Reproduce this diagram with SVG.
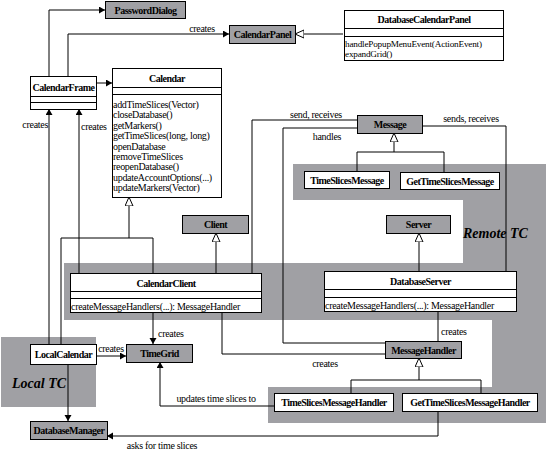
<svg xmlns="http://www.w3.org/2000/svg" width="546" height="451" viewBox="0 0 546 451" font-family="'Liberation Serif', 'Times New Roman', serif">
<style>
text{font-family:"Liberation Serif","Times New Roman",serif;fill:#000}
.cn{font-size:10px;font-weight:bold;text-anchor:middle;letter-spacing:-0.5px}
.m{font-size:10px;letter-spacing:-0.3px}
.ms{font-size:9.2px;letter-spacing:-0.2px}
.l{font-size:10px;letter-spacing:-0.3px}
.tc{font-size:14px;font-weight:bold;font-style:italic}
.box{fill:#fff;stroke:#000;stroke-width:1}
.gbox{fill:#a0a0a4;stroke:#000;stroke-width:1}
.region{fill:#a0a0a4;stroke:none}
.c{fill:none;stroke:#000;stroke-width:1}
</style>
<defs>
<marker id="arr" markerUnits="userSpaceOnUse" markerWidth="8" markerHeight="8" refX="6" refY="3.5" orient="auto">
<path d="M0,0 L6,3.5 L0,7 Z" fill="#000"/>
</marker>
<marker id="tri" markerUnits="userSpaceOnUse" markerWidth="12" markerHeight="12" refX="9" refY="4.5" orient="auto">
<path d="M0,0.5 L9,4.5 L0,8.5 Z" fill="#fff" stroke="#000" stroke-width="1"/>
</marker>
<marker id="dot" markerUnits="userSpaceOnUse" markerWidth="8" markerHeight="8" refX="1" refY="4" orient="auto">
<circle cx="4" cy="4" r="2.5" fill="#000"/>
</marker>
</defs>

<g id="regions">
<path class="region" d="M293,164 H546 V423 H268 V387 H492 V320 H64 V263 H463 V200 H293 Z"/>
<rect class="region" x="1" y="337" width="95" height="70"/>
<text class="tc" x="463" y="238">Remote TC</text>
<text class="tc" x="12" y="388">Local TC</text>
</g>

<g id="connectors">
<path class="c" d="M49,76 V10 H105" marker-end="url(#arr)"/>
<path class="c" d="M68,76 V34 H229" marker-end="url(#arr)"/>
<text class="l" x="202" y="32" text-anchor="middle">creates</text>
<path class="c" d="M96,83 H112" marker-end="url(#arr)"/>
<path class="c" d="M343,34 H295" marker-end="url(#tri)"/>
<path class="c" d="M49,344 V109" marker-end="url(#arr)"/>
<text class="l" x="48" y="128" text-anchor="end">creates</text>
<path class="c" d="M79,273 V109" marker-end="url(#arr)"/>
<text class="l" x="81" y="130">creates</text>
<path class="c" d="M153,273 V238 H129 V197" marker-end="url(#tri)"/>
<path class="c" d="M61,344 V238 H129"/>
<path class="c" d="M216,273 V233" marker-end="url(#tri)"/>
<path class="c" d="M252,273 V120 H357" marker-end="url(#dot)"/>
<text class="l" x="316" y="118" text-anchor="middle">send, receives</text>
<path class="c" d="M506,271 V126 H422" marker-end="url(#dot)"/>
<text class="l" x="471" y="122" text-anchor="middle">sends, receives</text>
<path class="c" d="M357,128 H283 V343 H385"/>
<text class="l" x="327" y="140" text-anchor="middle">handles</text>
<path class="c" d="M357,171 V152 H444 V172"/>
<path class="c" d="M394,152 V133" marker-end="url(#tri)"/>
<path class="c" d="M419,271 V233" marker-end="url(#tri)"/>
<path class="c" d="M153,312 V344" marker-end="url(#arr)"/>
<text class="l" x="158" y="337">creates</text>
<path class="c" d="M222,312 V354 H385" marker-end="url(#dot)"/>
<text class="l" x="325" y="367" text-anchor="middle">creates</text>
<path class="c" d="M438,311 V341" marker-end="url(#dot)"/>
<text class="l" x="441" y="335">creates</text>
<path class="c" d="M96,356 H126" marker-end="url(#arr)"/>
<text class="l" x="111" y="352" text-anchor="middle">creates</text>
<path class="c" d="M68,364 V421" marker-end="url(#arr)"/>
<path class="c" d="M274,406 H160 V362" marker-end="url(#arr)"/>
<text class="l" x="216" y="402" text-anchor="middle">updates time slices to</text>
<path class="c" d="M438,411 V436 H107" marker-end="url(#arr)"/>
<text class="l" x="162" y="449" text-anchor="middle">asks for time slices</text>
<path class="c" d="M351,393 V380 H481 V393"/>
<path class="c" d="M419,380 V358" marker-end="url(#tri)"/>
</g>

<g id="PasswordDialog"><rect class="gbox" x="105.5" y="1.5" width="80" height="17"/><text class="cn" x="145.5" y="13.5">PasswordDialog</text></g>
<g id="CalendarPanel"><rect class="gbox" x="229.5" y="25.5" width="66" height="18"/><text class="cn" x="262.5" y="38">CalendarPanel</text></g>
<g id="DatabaseCalendarPanel"><rect class="box" x="344.5" y="10.5" width="159" height="50"/>
<text class="cn" x="424" y="23">DatabaseCalendarPanel</text>
<path class="c" d="M344.5,28.5 H503.5 M344.5,36.5 H503.5"/>
<text class="ms" x="345" y="47">handlePopupMenuEvent(ActionEvent)</text>
<text class="ms" x="345" y="57">expandGrid()</text></g>
<g id="CalendarFrame"><rect class="box" x="30.5" y="76.5" width="66" height="33"/>
<text class="cn" x="63.5" y="91">CalendarFrame</text>
<path class="c" d="M30.5,96.5 H96.5 M30.5,102.5 H96.5"/></g>
<g id="Calendar"><rect class="box" x="112.5" y="68.5" width="109" height="129"/>
<text class="cn" x="167" y="82">Calendar</text>
<path class="c" d="M112.5,87.5 H221.5 M112.5,94.5 H221.5"/>
<text class="m" x="113" y="108">addTimeSlices(Vector)</text>
<text class="m" x="113" y="118">closeDatabase()</text>
<text class="m" x="113" y="129">getMarkers()</text>
<text class="m" x="113" y="139">getTimeSlices(long, long)</text>
<text class="m" x="113" y="150">openDatabase</text>
<text class="m" x="113" y="160">removeTimeSlices</text>
<text class="m" x="113" y="170">reopenDatabase()</text>
<text class="m" x="113" y="181">updateAccountOptions(...)</text>
<text class="m" x="113" y="191">updateMarkers(Vector)</text></g>
<g id="Message"><rect class="gbox" x="357.5" y="115.5" width="65" height="18"/><text class="cn" x="390" y="128">Message</text></g>
<g id="TimeSlicesMessage"><rect class="box" x="304.5" y="171.5" width="85" height="17"/><text class="cn" x="347" y="183.5">TimeSlicesMessage</text></g>
<g id="GetTimeSlicesMessage"><rect class="box" x="400.5" y="172.5" width="99" height="17"/><text class="cn" x="450" y="184.5">GetTimeSlicesMessage</text></g>
<g id="Client"><rect class="gbox" x="182.5" y="215.5" width="66" height="18"/><text class="cn" x="215.5" y="228">Client</text></g>
<g id="Server"><rect class="gbox" x="386.5" y="215.5" width="64" height="18"/><text class="cn" x="418.5" y="228">Server</text></g>
<g id="CalendarClient"><rect class="box" x="70.5" y="273.5" width="191" height="39"/>
<text class="cn" x="166" y="287">CalendarClient</text>
<path class="c" d="M70.5,291.5 H261.5 M70.5,298.5 H261.5"/>
<text class="m" x="71" y="310">createMessageHandlers(...): MessageHandler</text></g>
<g id="DatabaseServer"><rect class="box" x="324.5" y="271.5" width="192" height="40"/>
<text class="cn" x="420.5" y="285">DatabaseServer</text>
<path class="c" d="M324.5,289.5 H516.5 M324.5,297.5 H516.5"/>
<text class="m" x="325" y="309">createMessageHandlers(...): MessageHandler</text></g>
<g id="LocalCalendar"><rect class="box" x="30.5" y="344.5" width="66" height="20"/><text class="cn" x="63.5" y="358">LocalCalendar</text></g>
<g id="TimeGrid"><rect class="gbox" x="126.5" y="344.5" width="66" height="18"/><text class="cn" x="159.5" y="357">TimeGrid</text></g>
<g id="MessageHandler"><rect class="gbox" x="385.5" y="341.5" width="76" height="17"/><text class="cn" x="423.5" y="353.5">MessageHandler</text></g>
<g id="TimeSlicesMessageHandler"><rect class="box" x="274.5" y="393.5" width="119" height="18"/><text class="cn" x="334" y="406">TimeSlicesMessageHandler</text></g>
<g id="GetTimeSlicesMessageHandler"><rect class="box" x="402.5" y="393.5" width="135" height="18"/><text class="cn" x="470" y="406">GetTimeSlicesMessageHandler</text></g>
<g id="DatabaseManager"><rect class="gbox" x="30.5" y="421.5" width="77" height="18"/><text class="cn" x="69" y="434">DatabaseManager</text></g>
</svg>
